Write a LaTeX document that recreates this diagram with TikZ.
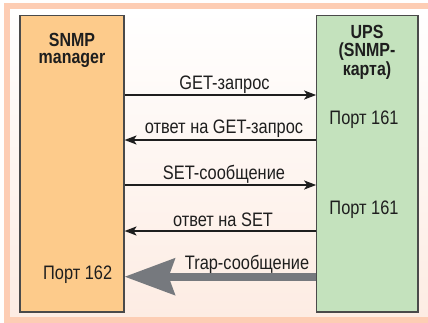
\documentclass[tikz,border=0pt]{standalone}
\usepackage{fontspec}
\setmainfont[FakeStretch=0.84]{Liberation Sans}
\usetikzlibrary{arrows.meta}
\definecolor{framepeach}{HTML}{FDCDB4}
\definecolor{panelpink}{HTML}{FDECE3}
\definecolor{mgrfill}{HTML}{FDCB8B}
\definecolor{upsfill}{HTML}{C4E2BD}
\definecolor{boxline}{HTML}{4A4A4A}
\definecolor{inkdark}{HTML}{1E1E1E}
\definecolor{trapgray}{HTML}{76797E}
\begin{document}
\begin{tikzpicture}[x=1pt,y=-1pt,
  party/.style={draw=boxline, line width=1.1pt, inner sep=0pt, minimum height=296.3pt},
  title/.style={font=\fontsize{19}{17.5}\selectfont\bfseries, align=center, anchor=north, inner sep=0pt, text=inkdark},
  txt/.style={font=\fontsize{19.5}{20}\selectfont, anchor=base, inner sep=0pt, text=inkdark},
  msg/.style={draw=inkdark, line width=1.8pt, -{Stealth[length=12pt,width=9pt,inset=3pt]}},
  trap/.style={draw=trapgray, line width=8pt, -{Stealth[length=50pt,width=36pt,inset=6pt]}}]
  \useasboundingbox (0,0) rectangle (428,322);
  \clip (0,0) rectangle (428,322);
  % panel background and peach frame
  \shade[top color=white, bottom color=panelpink] (10,9) rectangle (440,317);
  \draw[framepeach, line width=6pt] (7.2,6) rectangle (460,320);

  % the two parties
  \node[party, fill=mgrfill, minimum width=104pt] (mgr) at (72,163.85) {};
  \node[party, fill=upsfill, minimum width=101.3pt] (ups) at (367.35,163.85) {};

  \node[title] (mgrname) at (72,33) {SNMP\\manager};
  \node[title] (upsname) at (367,25.4) {UPS\\(SNMP-\\карта)};
  \node[txt] (port1) at (364,124) {Порт 161};
  \node[txt] (port2) at (364,214) {Порт 161};
  \node[txt] (port3) at (77.7,279.3) {Порт 162};

  % message rows
  \coordinate (r1) at (0,95);
  \coordinate (r2) at (0,140);
  \coordinate (r3) at (0,185);
  \coordinate (r4) at (0,231);
  \coordinate (r5) at (0,276.7);

  \draw[msg] (mgr.east |- r1) -- (ups.west |- r1);
  \draw[msg] (ups.west |- r2) -- (mgr.east |- r2);
  \draw[msg] (mgr.east |- r3) -- (ups.west |- r3);
  \draw[msg] (ups.west |- r4) -- (mgr.east |- r4);
  \draw[trap] (ups.west |- r5) -- (mgr.east |- r5);

  \node[txt] (l1) at (224.5,89) {GET-запрос};
  \node[txt] (l2) at (224,133) {ответ на GET-запрос};
  \node[txt] (l3) at (224,179) {SET-сообщение};
  \node[txt] (l4) at (223,226) {ответ на SET};
  \node[txt] (l5) at (247,269) {Trap-сообщение};
\end{tikzpicture}
\end{document}
